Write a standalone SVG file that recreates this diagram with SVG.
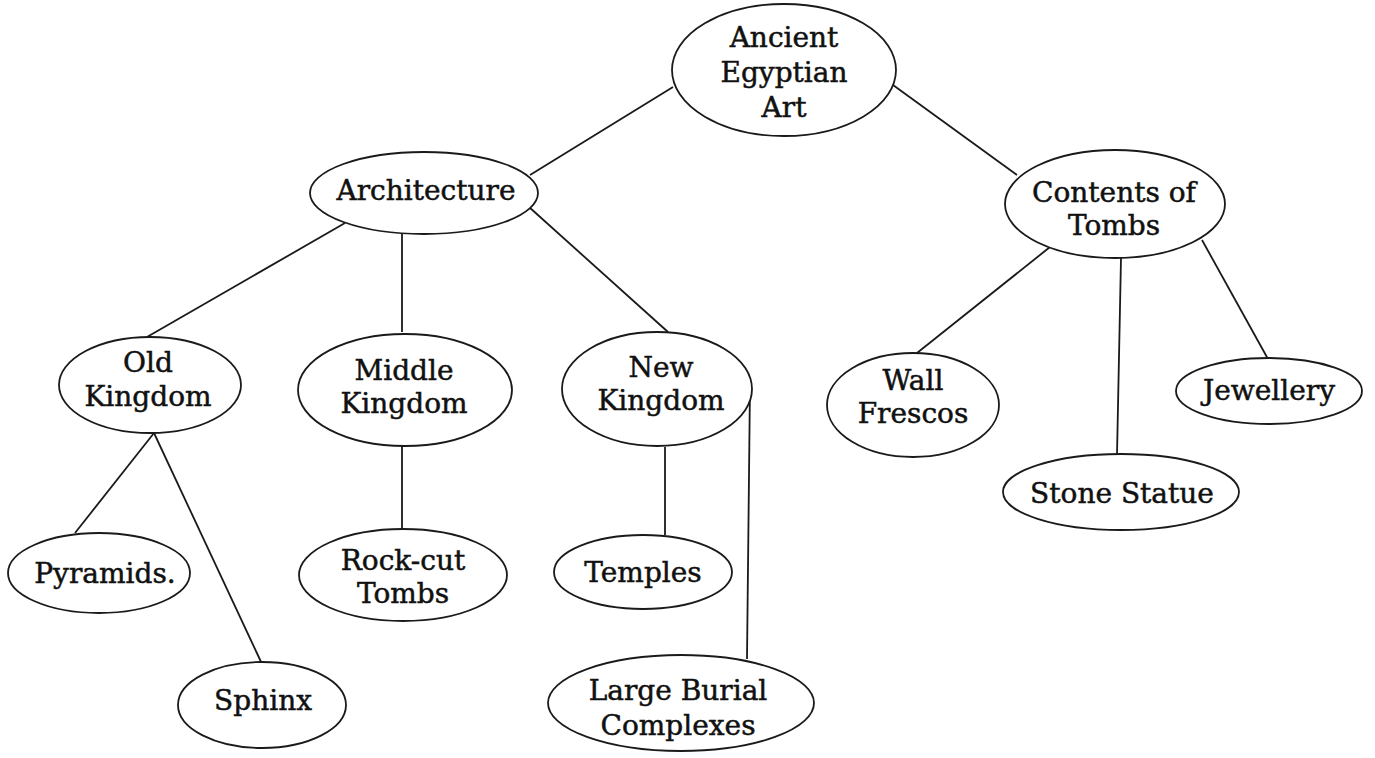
<svg xmlns="http://www.w3.org/2000/svg" width="1375" height="758" viewBox="0 0 1375 758">
<style>
.node ellipse{fill:#fff;stroke:#1a1a1a;stroke-width:1.8}
.node text{font-family:"DejaVu Serif","Liberation Serif",serif;font-size:28px;fill:#111;stroke:#111;stroke-width:0.5;text-anchor:middle}
#connectors line{stroke:#1a1a1a;stroke-width:1.8;fill:none}
</style>
<rect width="1375" height="758" fill="#fff"/>
<g id="connectors">
<line x1="530" y1="175" x2="673" y2="87"/>
<line x1="893" y1="85" x2="1017" y2="175"/>
<line x1="345" y1="223" x2="147" y2="337"/>
<line x1="402" y1="234" x2="402" y2="332"/>
<line x1="529" y1="207" x2="668" y2="332"/>
<line x1="154" y1="433" x2="75" y2="533"/>
<line x1="154" y1="433" x2="262" y2="664"/>
<line x1="402" y1="446" x2="402" y2="529"/>
<line x1="665" y1="447" x2="665" y2="535"/>
<line x1="750" y1="384" x2="747" y2="659"/>
<line x1="1050" y1="247" x2="917" y2="353"/>
<line x1="1121" y1="258" x2="1117" y2="455"/>
<line x1="1202" y1="240" x2="1268" y2="359"/>
</g>
<g id="ancient-egyptian-art" class="node">
<ellipse cx="784" cy="70" rx="112" ry="66"/>
<text x="784" y="47">Ancient</text>
<text x="784" y="82">Egyptian</text>
<text x="784" y="117">Art</text>
</g>
<g id="architecture" class="node">
<ellipse cx="424" cy="193" rx="114" ry="41"/>
<text x="426" y="200">Architecture</text>
</g>
<g id="contents-of-tombs" class="node">
<ellipse cx="1115" cy="204" rx="110" ry="54"/>
<text x="1114" y="202">Contents of</text>
<text x="1114" y="235">Tombs</text>
</g>
<g id="old-kingdom" class="node">
<ellipse cx="150" cy="385" rx="91" ry="48"/>
<text x="148" y="372">Old</text>
<text x="148" y="406">Kingdom</text>
</g>
<g id="middle-kingdom" class="node">
<ellipse cx="405" cy="390" rx="107" ry="56"/>
<text x="404" y="380">Middle</text>
<text x="404" y="413">Kingdom</text>
</g>
<g id="new-kingdom" class="node">
<ellipse cx="657" cy="389" rx="95" ry="57"/>
<text x="661" y="377">New</text>
<text x="661" y="410">Kingdom</text>
</g>
<g id="wall-frescos" class="node">
<ellipse cx="913" cy="405" rx="86" ry="52"/>
<text x="913" y="390">Wall</text>
<text x="913" y="423">Frescos</text>
</g>
<g id="jewellery" class="node">
<ellipse cx="1269" cy="391" rx="93" ry="33"/>
<text x="1269" y="400">Jewellery</text>
</g>
<g id="stone-statue" class="node">
<ellipse cx="1121" cy="492" rx="118" ry="38"/>
<text x="1122" y="503">Stone Statue</text>
</g>
<g id="pyramids" class="node">
<ellipse cx="99" cy="573" rx="91" ry="40"/>
<text x="105" y="583">Pyramids.</text>
</g>
<g id="rock-cut-tombs" class="node">
<ellipse cx="403" cy="575" rx="104" ry="46"/>
<text x="403" y="570">Rock-cut</text>
<text x="403" y="603">Tombs</text>
</g>
<g id="temples" class="node">
<ellipse cx="643" cy="572" rx="89" ry="37"/>
<text x="643" y="582">Temples</text>
</g>
<g id="sphinx" class="node">
<ellipse cx="262" cy="705" rx="84" ry="43"/>
<text x="263" y="710">Sphinx</text>
</g>
<g id="large-burial-complexes" class="node">
<ellipse cx="681" cy="703" rx="133" ry="48"/>
<text x="678" y="700">Large Burial</text>
<text x="678" y="735">Complexes</text>
</g>
</svg>
